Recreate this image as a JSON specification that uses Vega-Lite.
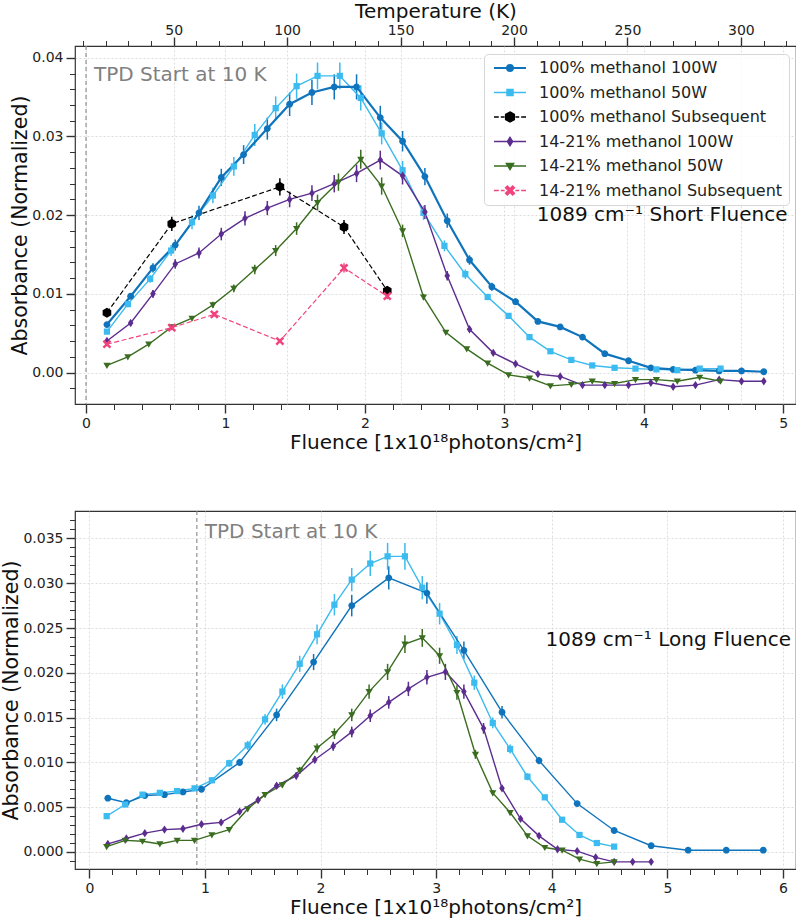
{
  "$schema": "https://vega.github.io/schema/vega-lite/v6.json",
  "padding": {"left": 0, "top": 0, "right": 1, "bottom": 0},
  "spacing": 56,
  "datasets": {
    "short": [
      {"s":"100% methanol 100W","f":0.15,"a":0.0061,"e":0.0003},{"s":"100% methanol 100W","f":0.32,"a":0.0097,"e":0.0004},{"s":"100% methanol 100W","f":0.48,"a":0.0133,"e":0.0006},{"s":"100% methanol 100W","f":0.64,"a":0.0162,"e":0.0007},{"s":"100% methanol 100W","f":0.81,"a":0.0203,"e":0.0009},{"s":"100% methanol 100W","f":0.97,"a":0.0248,"e":0.0011},{"s":"100% methanol 100W","f":1.13,"a":0.0277,"e":0.0012},{"s":"100% methanol 100W","f":1.30,"a":0.0310,"e":0.0014},{"s":"100% methanol 100W","f":1.46,"a":0.0341,"e":0.0015},{"s":"100% methanol 100W","f":1.62,"a":0.0356,"e":0.0016},{"s":"100% methanol 100W","f":1.78,"a":0.0363,"e":0.0016},{"s":"100% methanol 100W","f":1.94,"a":0.0363,"e":0.0016},{"s":"100% methanol 100W","f":2.11,"a":0.0324,"e":0.0015},{"s":"100% methanol 100W","f":2.27,"a":0.0294,"e":0.0013},{"s":"100% methanol 100W","f":2.43,"a":0.0249,"e":0.0011},{"s":"100% methanol 100W","f":2.59,"a":0.0193,"e":0.0009},{"s":"100% methanol 100W","f":2.75,"a":0.0143,"e":0.0006},{"s":"100% methanol 100W","f":2.91,"a":0.0109,"e":0.0005},{"s":"100% methanol 100W","f":3.08,"a":0.0090,"e":0.0004},{"s":"100% methanol 100W","f":3.24,"a":0.0065,"e":0.0003},{"s":"100% methanol 100W","f":3.40,"a":0.0058,"e":0.0003},{"s":"100% methanol 100W","f":3.56,"a":0.0045,"e":0.0002},{"s":"100% methanol 100W","f":3.72,"a":0.0024,"e":0.0001},{"s":"100% methanol 100W","f":3.89,"a":0.0015,"e":0.0001},{"s":"100% methanol 100W","f":4.05,"a":0.0006,"e":0.0001},{"s":"100% methanol 100W","f":4.21,"a":0.0004,"e":0.0001},{"s":"100% methanol 100W","f":4.37,"a":0.0003,"e":0.0001},{"s":"100% methanol 100W","f":4.54,"a":0.0002,"e":0.0001},{"s":"100% methanol 100W","f":4.70,"a":0.0002,"e":0.0001},{"s":"100% methanol 100W","f":4.86,"a":0.0001,"e":0.0001},
      {"s":"100% methanol 50W","f":0.15,"a":0.0052,"e":0.0002},{"s":"100% methanol 50W","f":0.30,"a":0.0087,"e":0.0004},{"s":"100% methanol 50W","f":0.46,"a":0.0119,"e":0.0005},{"s":"100% methanol 50W","f":0.61,"a":0.0155,"e":0.0007},{"s":"100% methanol 50W","f":0.76,"a":0.0191,"e":0.0009},{"s":"100% methanol 50W","f":0.91,"a":0.0225,"e":0.0010},{"s":"100% methanol 50W","f":1.06,"a":0.0262,"e":0.0012},{"s":"100% methanol 50W","f":1.21,"a":0.0302,"e":0.0014},{"s":"100% methanol 50W","f":1.36,"a":0.0336,"e":0.0015},{"s":"100% methanol 50W","f":1.51,"a":0.0364,"e":0.0016},{"s":"100% methanol 50W","f":1.66,"a":0.0377,"e":0.0017},{"s":"100% methanol 50W","f":1.82,"a":0.0377,"e":0.0017},{"s":"100% methanol 50W","f":1.97,"a":0.0349,"e":0.0016},{"s":"100% methanol 50W","f":2.12,"a":0.0304,"e":0.0014},{"s":"100% methanol 50W","f":2.27,"a":0.0257,"e":0.0012},{"s":"100% methanol 50W","f":2.42,"a":0.0203,"e":0.0009},{"s":"100% methanol 50W","f":2.57,"a":0.0161,"e":0.0007},{"s":"100% methanol 50W","f":2.72,"a":0.0125,"e":0.0006},{"s":"100% methanol 50W","f":2.88,"a":0.0096,"e":0.0004},{"s":"100% methanol 50W","f":3.03,"a":0.0072,"e":0.0003},{"s":"100% methanol 50W","f":3.18,"a":0.0045,"e":0.0002},{"s":"100% methanol 50W","f":3.33,"a":0.0027,"e":0.0001},{"s":"100% methanol 50W","f":3.48,"a":0.0016,"e":0.0001},{"s":"100% methanol 50W","f":3.63,"a":0.0009,"e":0.0001},{"s":"100% methanol 50W","f":3.79,"a":0.0006,"e":0.0001},{"s":"100% methanol 50W","f":3.94,"a":0.0005,"e":0.0001},{"s":"100% methanol 50W","f":4.09,"a":0.0004,"e":0.0001},{"s":"100% methanol 50W","f":4.24,"a":0.0003,"e":0.0001},{"s":"100% methanol 50W","f":4.40,"a":0.0005,"e":0.0001},{"s":"100% methanol 50W","f":4.55,"a":0.0005,"e":0.0001},
      {"s":"100% methanol Subsequent","f":0.15,"a":0.0076,"e":0.0004},{"s":"100% methanol Subsequent","f":0.615,"a":0.0189,"e":0.0009},{"s":"100% methanol Subsequent","f":1.39,"a":0.0236,"e":0.0011},{"s":"100% methanol Subsequent","f":1.85,"a":0.0185,"e":0.0009},{"s":"100% methanol Subsequent","f":2.16,"a":0.0104,"e":0.0005},
      {"s":"14-21% methanol 100W","f":0.15,"a":0.0040,"e":0.0002},{"s":"14-21% methanol 100W","f":0.32,"a":0.0063,"e":0.0003},{"s":"14-21% methanol 100W","f":0.48,"a":0.0100,"e":0.0005},{"s":"14-21% methanol 100W","f":0.64,"a":0.0138,"e":0.0006},{"s":"14-21% methanol 100W","f":0.81,"a":0.0152,"e":0.0007},{"s":"14-21% methanol 100W","f":0.97,"a":0.0176,"e":0.0008},{"s":"14-21% methanol 100W","f":1.14,"a":0.0196,"e":0.0009},{"s":"14-21% methanol 100W","f":1.30,"a":0.0209,"e":0.0009},{"s":"14-21% methanol 100W","f":1.46,"a":0.0220,"e":0.0010},{"s":"14-21% methanol 100W","f":1.62,"a":0.0228,"e":0.0010},{"s":"14-21% methanol 100W","f":1.78,"a":0.0240,"e":0.0011},{"s":"14-21% methanol 100W","f":1.94,"a":0.0253,"e":0.0011},{"s":"14-21% methanol 100W","f":2.11,"a":0.0270,"e":0.0012},{"s":"14-21% methanol 100W","f":2.27,"a":0.0250,"e":0.0011},{"s":"14-21% methanol 100W","f":2.43,"a":0.0204,"e":0.0009},{"s":"14-21% methanol 100W","f":2.59,"a":0.0123,"e":0.0006},{"s":"14-21% methanol 100W","f":2.75,"a":0.0055,"e":0.0003},{"s":"14-21% methanol 100W","f":2.92,"a":0.0025,"e":0.0001},{"s":"14-21% methanol 100W","f":3.08,"a":0.0011,"e":0.0001},{"s":"14-21% methanol 100W","f":3.24,"a":-0.0002,"e":0.0001},{"s":"14-21% methanol 100W","f":3.40,"a":-0.0005,"e":0.0001},{"s":"14-21% methanol 100W","f":3.56,"a":-0.0016,"e":0.0001},{"s":"14-21% methanol 100W","f":3.72,"a":-0.0016,"e":0.0001},{"s":"14-21% methanol 100W","f":3.89,"a":-0.0016,"e":0.0001},{"s":"14-21% methanol 100W","f":4.05,"a":-0.0013,"e":0.0001},{"s":"14-21% methanol 100W","f":4.21,"a":-0.0018,"e":0.0001},{"s":"14-21% methanol 100W","f":4.37,"a":-0.0016,"e":0.0001},{"s":"14-21% methanol 100W","f":4.54,"a":-0.0009,"e":0.0001},{"s":"14-21% methanol 100W","f":4.70,"a":-0.0011,"e":0.0001},{"s":"14-21% methanol 100W","f":4.86,"a":-0.0011,"e":0.0001},
      {"s":"14-21% methanol 50W","f":0.15,"a":0.0009,"e":0.0001},{"s":"14-21% methanol 50W","f":0.30,"a":0.0020,"e":0.0001},{"s":"14-21% methanol 50W","f":0.45,"a":0.0036,"e":0.0002},{"s":"14-21% methanol 50W","f":0.615,"a":0.0058,"e":0.0003},{"s":"14-21% methanol 50W","f":0.76,"a":0.0069,"e":0.0003},{"s":"14-21% methanol 50W","f":0.91,"a":0.0086,"e":0.0004},{"s":"14-21% methanol 50W","f":1.06,"a":0.0107,"e":0.0005},{"s":"14-21% methanol 50W","f":1.21,"a":0.0131,"e":0.0006},{"s":"14-21% methanol 50W","f":1.36,"a":0.0155,"e":0.0007},{"s":"14-21% methanol 50W","f":1.51,"a":0.0183,"e":0.0008},{"s":"14-21% methanol 50W","f":1.66,"a":0.0216,"e":0.0010},{"s":"14-21% methanol 50W","f":1.81,"a":0.0242,"e":0.0011},{"s":"14-21% methanol 50W","f":1.97,"a":0.0271,"e":0.0012},{"s":"14-21% methanol 50W","f":2.12,"a":0.0237,"e":0.0011},{"s":"14-21% methanol 50W","f":2.27,"a":0.0180,"e":0.0008},{"s":"14-21% methanol 50W","f":2.42,"a":0.0096,"e":0.0004},{"s":"14-21% methanol 50W","f":2.58,"a":0.0051,"e":0.0002},{"s":"14-21% methanol 50W","f":2.73,"a":0.0030,"e":0.0001},{"s":"14-21% methanol 50W","f":2.88,"a":0.0012,"e":0.0001},{"s":"14-21% methanol 50W","f":3.03,"a":-0.0003,"e":0.0001},{"s":"14-21% methanol 50W","f":3.18,"a":-0.0007,"e":0.0001},{"s":"14-21% methanol 50W","f":3.33,"a":-0.0017,"e":0.0001},{"s":"14-21% methanol 50W","f":3.48,"a":-0.0015,"e":0.0001},{"s":"14-21% methanol 50W","f":3.63,"a":-0.0011,"e":0.0001},{"s":"14-21% methanol 50W","f":3.79,"a":-0.0014,"e":0.0001},{"s":"14-21% methanol 50W","f":3.94,"a":-0.0009,"e":0.0001},{"s":"14-21% methanol 50W","f":4.09,"a":-0.0009,"e":0.0001},{"s":"14-21% methanol 50W","f":4.24,"a":-0.0011,"e":0.0001},{"s":"14-21% methanol 50W","f":4.40,"a":-0.0006,"e":0.0001},{"s":"14-21% methanol 50W","f":4.55,"a":-0.0011,"e":0.0001},
      {"s":"14-21% methanol Subsequent","f":0.15,"a":0.0036,"e":0.0002},{"s":"14-21% methanol Subsequent","f":0.615,"a":0.0057,"e":0.0003},{"s":"14-21% methanol Subsequent","f":0.92,"a":0.0074,"e":0.0003},{"s":"14-21% methanol Subsequent","f":1.39,"a":0.0040,"e":0.0002},{"s":"14-21% methanol Subsequent","f":1.85,"a":0.0133,"e":0.0006},{"s":"14-21% methanol Subsequent","f":2.16,"a":0.0097,"e":0.0004}
    ],
    "long": [
      {"s":"100% methanol 100W","f":0.16,"a":0.0060,"e":0.0003},{"s":"100% methanol 100W","f":0.32,"a":0.0055,"e":0.0002},{"s":"100% methanol 100W","f":0.48,"a":0.0063,"e":0.0003},{"s":"100% methanol 100W","f":0.65,"a":0.0064,"e":0.0003},{"s":"100% methanol 100W","f":0.81,"a":0.0067,"e":0.0003},{"s":"100% methanol 100W","f":0.97,"a":0.0070,"e":0.0003},{"s":"100% methanol 100W","f":1.30,"a":0.0100,"e":0.0004},{"s":"100% methanol 100W","f":1.62,"a":0.0153,"e":0.0007},{"s":"100% methanol 100W","f":1.94,"a":0.0212,"e":0.0009},{"s":"100% methanol 100W","f":2.27,"a":0.0275,"e":0.0012},{"s":"100% methanol 100W","f":2.59,"a":0.0306,"e":0.0013},{"s":"100% methanol 100W","f":2.92,"a":0.0289,"e":0.0012},{"s":"100% methanol 100W","f":3.24,"a":0.0225,"e":0.0010},{"s":"100% methanol 100W","f":3.57,"a":0.0156,"e":0.0007},{"s":"100% methanol 100W","f":3.89,"a":0.0102,"e":0.0004},{"s":"100% methanol 100W","f":4.22,"a":0.0054,"e":0.0002},{"s":"100% methanol 100W","f":4.54,"a":0.0024,"e":0.0001},{"s":"100% methanol 100W","f":4.86,"a":0.0007,"e":0.0001},{"s":"100% methanol 100W","f":5.18,"a":0.0002,"e":0.0001},{"s":"100% methanol 100W","f":5.51,"a":0.0002,"e":0.0001},{"s":"100% methanol 100W","f":5.83,"a":0.0002,"e":0.0001},
      {"s":"100% methanol 50W","f":0.15,"a":0.0040,"e":0.0002},{"s":"100% methanol 50W","f":0.31,"a":0.0053,"e":0.0002},{"s":"100% methanol 50W","f":0.46,"a":0.0064,"e":0.0003},{"s":"100% methanol 50W","f":0.61,"a":0.0066,"e":0.0003},{"s":"100% methanol 50W","f":0.76,"a":0.0068,"e":0.0003},{"s":"100% methanol 50W","f":0.91,"a":0.0071,"e":0.0003},{"s":"100% methanol 50W","f":1.06,"a":0.0080,"e":0.0003},{"s":"100% methanol 50W","f":1.21,"a":0.0099,"e":0.0004},{"s":"100% methanol 50W","f":1.37,"a":0.0119,"e":0.0005},{"s":"100% methanol 50W","f":1.52,"a":0.0148,"e":0.0006},{"s":"100% methanol 50W","f":1.67,"a":0.0179,"e":0.0008},{"s":"100% methanol 50W","f":1.82,"a":0.0210,"e":0.0009},{"s":"100% methanol 50W","f":1.97,"a":0.0243,"e":0.0011},{"s":"100% methanol 50W","f":2.12,"a":0.0276,"e":0.0012},{"s":"100% methanol 50W","f":2.27,"a":0.0304,"e":0.0013},{"s":"100% methanol 50W","f":2.43,"a":0.0322,"e":0.0014},{"s":"100% methanol 50W","f":2.58,"a":0.0330,"e":0.0015},{"s":"100% methanol 50W","f":2.73,"a":0.0330,"e":0.0015},{"s":"100% methanol 50W","f":2.88,"a":0.0295,"e":0.0013},{"s":"100% methanol 50W","f":3.03,"a":0.0266,"e":0.0012},{"s":"100% methanol 50W","f":3.18,"a":0.0231,"e":0.0010},{"s":"100% methanol 50W","f":3.33,"a":0.0189,"e":0.0008},{"s":"100% methanol 50W","f":3.49,"a":0.0144,"e":0.0006},{"s":"100% methanol 50W","f":3.64,"a":0.0115,"e":0.0005},{"s":"100% methanol 50W","f":3.79,"a":0.0084,"e":0.0004},{"s":"100% methanol 50W","f":3.94,"a":0.0061,"e":0.0003},{"s":"100% methanol 50W","f":4.09,"a":0.0036,"e":0.0002},{"s":"100% methanol 50W","f":4.24,"a":0.0019,"e":0.0001},{"s":"100% methanol 50W","f":4.39,"a":0.0010,"e":0.0001},{"s":"100% methanol 50W","f":4.54,"a":0.0006,"e":0.0001},
      {"s":"14-21% methanol 100W","f":0.16,"a":0.0009,"e":0.0001},{"s":"14-21% methanol 100W","f":0.32,"a":0.0015,"e":0.0001},{"s":"14-21% methanol 100W","f":0.48,"a":0.0021,"e":0.0001},{"s":"14-21% methanol 100W","f":0.65,"a":0.0025,"e":0.0001},{"s":"14-21% methanol 100W","f":0.81,"a":0.0026,"e":0.0001},{"s":"14-21% methanol 100W","f":0.97,"a":0.0031,"e":0.0001},{"s":"14-21% methanol 100W","f":1.14,"a":0.0033,"e":0.0001},{"s":"14-21% methanol 100W","f":1.30,"a":0.0045,"e":0.0002},{"s":"14-21% methanol 100W","f":1.46,"a":0.0058,"e":0.0003},{"s":"14-21% methanol 100W","f":1.62,"a":0.0074,"e":0.0003},{"s":"14-21% methanol 100W","f":1.79,"a":0.0085,"e":0.0004},{"s":"14-21% methanol 100W","f":1.95,"a":0.0103,"e":0.0004},{"s":"14-21% methanol 100W","f":2.11,"a":0.0118,"e":0.0005},{"s":"14-21% methanol 100W","f":2.27,"a":0.0134,"e":0.0006},{"s":"14-21% methanol 100W","f":2.43,"a":0.0152,"e":0.0007},{"s":"14-21% methanol 100W","f":2.59,"a":0.0167,"e":0.0007},{"s":"14-21% methanol 100W","f":2.76,"a":0.0182,"e":0.0008},{"s":"14-21% methanol 100W","f":2.92,"a":0.0195,"e":0.0008},{"s":"14-21% methanol 100W","f":3.08,"a":0.0201,"e":0.0009},{"s":"14-21% methanol 100W","f":3.24,"a":0.0179,"e":0.0008},{"s":"14-21% methanol 100W","f":3.41,"a":0.0138,"e":0.0006},{"s":"14-21% methanol 100W","f":3.57,"a":0.0071,"e":0.0003},{"s":"14-21% methanol 100W","f":3.73,"a":0.0037,"e":0.0002},{"s":"14-21% methanol 100W","f":3.89,"a":0.0018,"e":0.0001},{"s":"14-21% methanol 100W","f":4.05,"a":0.0003,"e":0.0001},{"s":"14-21% methanol 100W","f":4.22,"a":0.0001,"e":0.0001},{"s":"14-21% methanol 100W","f":4.38,"a":-0.0006,"e":0.0001},{"s":"14-21% methanol 100W","f":4.54,"a":-0.0011,"e":0.0001},{"s":"14-21% methanol 100W","f":4.70,"a":-0.0011,"e":0.0001},{"s":"14-21% methanol 100W","f":4.86,"a":-0.0011,"e":0.0001},
      {"s":"14-21% methanol 50W","f":0.15,"a":0.0006,"e":0.0001},{"s":"14-21% methanol 50W","f":0.31,"a":0.0013,"e":0.0001},{"s":"14-21% methanol 50W","f":0.46,"a":0.0012,"e":0.0001},{"s":"14-21% methanol 50W","f":0.61,"a":0.0009,"e":0.0001},{"s":"14-21% methanol 50W","f":0.76,"a":0.0013,"e":0.0001},{"s":"14-21% methanol 50W","f":0.91,"a":0.0013,"e":0.0001},{"s":"14-21% methanol 50W","f":1.06,"a":0.0019,"e":0.0001},{"s":"14-21% methanol 50W","f":1.21,"a":0.0025,"e":0.0001},{"s":"14-21% methanol 50W","f":1.37,"a":0.0048,"e":0.0002},{"s":"14-21% methanol 50W","f":1.52,"a":0.0064,"e":0.0003},{"s":"14-21% methanol 50W","f":1.67,"a":0.0075,"e":0.0003},{"s":"14-21% methanol 50W","f":1.82,"a":0.0091,"e":0.0004},{"s":"14-21% methanol 50W","f":1.97,"a":0.0116,"e":0.0005},{"s":"14-21% methanol 50W","f":2.12,"a":0.0132,"e":0.0006},{"s":"14-21% methanol 50W","f":2.27,"a":0.0153,"e":0.0007},{"s":"14-21% methanol 50W","f":2.42,"a":0.0179,"e":0.0008},{"s":"14-21% methanol 50W","f":2.58,"a":0.0201,"e":0.0009},{"s":"14-21% methanol 50W","f":2.73,"a":0.0232,"e":0.0010},{"s":"14-21% methanol 50W","f":2.88,"a":0.0239,"e":0.0010},{"s":"14-21% methanol 50W","f":3.03,"a":0.0219,"e":0.0009},{"s":"14-21% methanol 50W","f":3.18,"a":0.0178,"e":0.0008},{"s":"14-21% methanol 50W","f":3.34,"a":0.0109,"e":0.0005},{"s":"14-21% methanol 50W","f":3.49,"a":0.0066,"e":0.0003},{"s":"14-21% methanol 50W","f":3.64,"a":0.0044,"e":0.0002},{"s":"14-21% methanol 50W","f":3.79,"a":0.0018,"e":0.0001},{"s":"14-21% methanol 50W","f":3.94,"a":0.0005,"e":0.0001},{"s":"14-21% methanol 50W","f":4.09,"a":0.0002,"e":0.0001},{"s":"14-21% methanol 50W","f":4.24,"a":-0.0008,"e":0.0001},{"s":"14-21% methanol 50W","f":4.39,"a":-0.0013,"e":0.0001},{"s":"14-21% methanol 50W","f":4.54,"a":-0.0011,"e":0.0001}
    ]
  },
  "vconcat": [
    {
      "width": 721, "height": 358,
      "resolve": {"scale": {"x": "independent"}},
      "layer": [
        {
          "layer": [
            {"data": {"name": "short"}, "mark": {"type": "point", "filled": true, "opacity": 0},
             "encoding": {
               "x": {"field": "f", "type": "quantitative", "title": "Fluence [1x10¹⁸photons/cm²]", "scale": {"domain": [-0.079, 5.091], "nice": false, "zero": false}},
               "y": {"field": "a", "type": "quantitative", "title": "Absorbance (Normalized)", "scale": {"domain": [-0.004, 0.0415], "nice": false, "zero": false}},
               "fill": {"field": "s", "type": "nominal", "legend": {"title": null}, "scale": {"domain": ["100% methanol 100W","100% methanol 50W","100% methanol Subsequent","14-21% methanol 100W","14-21% methanol 50W","14-21% methanol Subsequent"], "range": ["#0f74bb","#3bbbef","#000000","#5c2d8f","#3a6d20","#f0447e"]}},
               "stroke": {"field": "s", "type": "nominal", "legend": {"title": null}, "scale": {"domain": ["100% methanol 100W","100% methanol 50W","100% methanol Subsequent","14-21% methanol 100W","14-21% methanol 50W","14-21% methanol Subsequent"], "range": ["#0f74bb","#3bbbef","#000000","#5c2d8f","#3a6d20","#f0447e"]}},
               "shape": {"field": "s", "type": "nominal", "legend": {"title": null}, "scale": {"domain": ["100% methanol 100W","100% methanol 50W","100% methanol Subsequent","14-21% methanol 100W","14-21% methanol 50W","14-21% methanol Subsequent"],
                 "range": [
                   "M-4,-0.07H4M-4,0.07H4M-0.8,0A0.8,0.8 0 1,0 0.8,0A0.8,0.8 0 1,0 -0.8,0Z",
                   "M-4,0H4M-0.75,-0.75H0.75V0.75H-0.75Z",
                   "M-4,0H-2.8M-2.3,0H-1.35M1.35,0H2.3M2.8,0H4M0,-1.25L1.08,-0.625L1.08,0.625L0,1.25L-1.08,0.625L-1.08,-0.625Z",
                   "M-4,0H4M0,-1L0.65,0L0,1L-0.65,0Z",
                   "M-4,0H4M-0.9,-0.65H0.9L0,0.9Z",
                   "M-4,0H-2.8M-2.3,0H-1.35M1.35,0H2.3M2.8,0H4M-1.1,-0.66L-0.66,-1.1L0,-0.44L0.66,-1.1L1.1,-0.66L0.44,0L1.1,0.66L0.66,1.1L0,0.44L-0.66,1.1L-1.1,0.66L-0.44,0Z"
                 ]}}
             }},
            {"data": {"values": [{"f": 0}]}, "mark": {"type": "rule", "color": "#888888", "strokeDash": [4, 3], "strokeWidth": 1.1},
             "encoding": {"x": {"field": "f", "type": "quantitative", "title": "Fluence [1x10¹⁸photons/cm²]", "scale": {"domain": [-0.079, 5.091], "nice": false, "zero": false}}}},
            {"data": {"values": [{"f": 0, "a": 0.0370, "t": "TPD Start at 10 K"}]},
             "mark": {"type": "text", "align": "left", "baseline": "alphabetic", "dx": 8, "fontSize": 20, "color": "#808080"},
             "encoding": {
               "x": {"field": "f", "type": "quantitative", "title": "Fluence [1x10¹⁸photons/cm²]", "scale": {"domain": [-0.079, 5.091], "nice": false, "zero": false}},
               "y": {"field": "a", "type": "quantitative", "title": "Absorbance (Normalized)", "scale": {"domain": [-0.004, 0.0415], "nice": false, "zero": false}},
               "text": {"field": "t"}}},
            {"data": {"values": [{"f": 5.03, "a": 0.0192, "t": "1089 cm⁻¹ Short Fluence"}]},
             "mark": {"type": "text", "align": "right", "baseline": "alphabetic", "fontSize": 20, "color": "#111111"},
             "encoding": {
               "x": {"field": "f", "type": "quantitative", "title": "Fluence [1x10¹⁸photons/cm²]", "scale": {"domain": [-0.079, 5.091], "nice": false, "zero": false}},
               "y": {"field": "a", "type": "quantitative", "title": "Absorbance (Normalized)", "scale": {"domain": [-0.004, 0.0415], "nice": false, "zero": false}},
               "text": {"field": "t"}}},
            {"data": {"name": "short"}, "mark": {"type": "errorbar", "rule": {"strokeWidth": 1.5}},
             "encoding": {
               "x": {"field": "f", "type": "quantitative", "title": "Fluence [1x10¹⁸photons/cm²]", "scale": {"domain": [-0.079, 5.091], "nice": false, "zero": false}},
               "y": {"field": "a", "type": "quantitative", "title": "Absorbance (Normalized)", "scale": {"domain": [-0.004, 0.0415], "nice": false, "zero": false}},
               "yError": {"field": "e"},
               "color": {"field": "s", "type": "nominal", "scale": {"domain": ["100% methanol 100W","100% methanol 50W","100% methanol Subsequent","14-21% methanol 100W","14-21% methanol 50W","14-21% methanol Subsequent"], "range": ["#0f74bb","#3bbbef","#000000","#5c2d8f","#3a6d20","#f0447e"]}}}},
            {"data": {"name": "short"}, "transform": [{"filter": {"field": "s", "oneOf": ["100% methanol 50W","14-21% methanol 100W","14-21% methanol 50W"]}}],
             "mark": {"type": "line", "strokeWidth": 1.4},
             "encoding": {
               "x": {"field": "f", "type": "quantitative", "title": "Fluence [1x10¹⁸photons/cm²]", "scale": {"domain": [-0.079, 5.091], "nice": false, "zero": false}},
               "y": {"field": "a", "type": "quantitative", "title": "Absorbance (Normalized)", "scale": {"domain": [-0.004, 0.0415], "nice": false, "zero": false}},
               "stroke": {"field": "s", "type": "nominal", "scale": {"domain": ["100% methanol 100W","100% methanol 50W","100% methanol Subsequent","14-21% methanol 100W","14-21% methanol 50W","14-21% methanol Subsequent"], "range": ["#0f74bb","#3bbbef","#000000","#5c2d8f","#3a6d20","#f0447e"]}}}},
            {"data": {"name": "short"}, "transform": [{"filter": {"field": "s", "oneOf": ["100% methanol Subsequent","14-21% methanol Subsequent"]}}],
             "mark": {"type": "line", "strokeWidth": 1.2, "strokeDash": [5, 2.5]},
             "encoding": {
               "x": {"field": "f", "type": "quantitative", "title": "Fluence [1x10¹⁸photons/cm²]", "scale": {"domain": [-0.079, 5.091], "nice": false, "zero": false}},
               "y": {"field": "a", "type": "quantitative", "title": "Absorbance (Normalized)", "scale": {"domain": [-0.004, 0.0415], "nice": false, "zero": false}},
               "stroke": {"field": "s", "type": "nominal", "scale": {"domain": ["100% methanol 100W","100% methanol 50W","100% methanol Subsequent","14-21% methanol 100W","14-21% methanol 50W","14-21% methanol Subsequent"], "range": ["#0f74bb","#3bbbef","#000000","#5c2d8f","#3a6d20","#f0447e"]}}}},
            {"data": {"name": "short"}, "transform": [{"filter": {"field": "s", "equal": "100% methanol 100W"}}],
             "mark": {"type": "line", "strokeWidth": 2.2},
             "encoding": {
               "x": {"field": "f", "type": "quantitative", "title": "Fluence [1x10¹⁸photons/cm²]", "scale": {"domain": [-0.079, 5.091], "nice": false, "zero": false},
                     "axis": {"orient": "bottom", "tickCount": 500, "values": [0,0.2,0.4,0.6,0.8,1,1.2,1.4,1.6,1.8,2,2.2,2.4,2.6,2.8,3,3.2,3.4,3.6,3.8,4,4.2,4.4,4.6,4.8,5],
                              "labelExpr": "datum.value == round(datum.value) ? format(datum.value, 'd') : ''",
                              "tickSize": {"expr": "datum.value == round(datum.value) ? 9 : 5.5"},
                              "tickWidth": {"condition": {"test": "datum.value == round(datum.value)", "value": 1.4}, "value": 1},
                              "gridOpacity": {"condition": {"test": "datum.value == round(datum.value)", "value": 1}, "value": 0},
                              "labelOverlap": false, "grid": true, "titlePadding": 2}},
               "y": {"field": "a", "type": "quantitative", "title": "Absorbance (Normalized)", "scale": {"domain": [-0.004, 0.0415], "nice": false, "zero": false},
                     "axis": {"orient": "left", "tickCount": 500, "values": [-0.002,0,0.002,0.004,0.006,0.008,0.01,0.012,0.014,0.016,0.018,0.02,0.022,0.024,0.026,0.028,0.03,0.032,0.034,0.036,0.038,0.04],
                              "labelExpr": "abs(datum.value*100 - round(datum.value*100)) < 0.000001 ? format(datum.value, '.2f') : ''",
                              "tickSize": {"expr": "abs(datum.value*100 - round(datum.value*100)) < 0.000001 ? 9 : 5.5"},
                              "tickWidth": {"condition": {"test": "abs(datum.value*100 - round(datum.value*100)) < 0.000001", "value": 1.4}, "value": 1},
                              "gridOpacity": {"condition": {"test": "abs(datum.value*100 - round(datum.value*100)) < 0.000001", "value": 1}, "value": 0},
                              "labelOverlap": false, "grid": true, "titlePadding": 1.5, "titleFontSize": 20.5}},
               "stroke": {"field": "s", "type": "nominal", "scale": {"domain": ["100% methanol 100W","100% methanol 50W","100% methanol Subsequent","14-21% methanol 100W","14-21% methanol 50W","14-21% methanol Subsequent"], "range": ["#0f74bb","#3bbbef","#000000","#5c2d8f","#3a6d20","#f0447e"]}}}},
            {"data": {"name": "short"}, "transform": [{"filter": {"field": "s", "equal": "100% methanol 100W"}}],
             "mark": {"type": "point", "filled": true, "opacity": 1, "size": 64, "shape": "M-0.85,0A0.85,0.85 0 1,0 0.85,0A0.85,0.85 0 1,0 -0.85,0Z"},
             "encoding": {
               "x": {"field": "f", "type": "quantitative", "title": "Fluence [1x10¹⁸photons/cm²]", "scale": {"domain": [-0.079, 5.091], "nice": false, "zero": false}},
               "y": {"field": "a", "type": "quantitative", "title": "Absorbance (Normalized)", "scale": {"domain": [-0.004, 0.0415], "nice": false, "zero": false}},
               "fill": {"field": "s", "type": "nominal", "scale": {"domain": ["100% methanol 100W","100% methanol 50W","100% methanol Subsequent","14-21% methanol 100W","14-21% methanol 50W","14-21% methanol Subsequent"], "range": ["#0f74bb","#3bbbef","#000000","#5c2d8f","#3a6d20","#f0447e"]}}}},
            {"data": {"name": "short"}, "transform": [{"filter": {"field": "s", "equal": "100% methanol 50W"}}],
             "mark": {"type": "point", "filled": true, "opacity": 1, "size": 64, "shape": "M-0.78,-0.78H0.78V0.78H-0.78Z"},
             "encoding": {
               "x": {"field": "f", "type": "quantitative", "title": "Fluence [1x10¹⁸photons/cm²]", "scale": {"domain": [-0.079, 5.091], "nice": false, "zero": false}},
               "y": {"field": "a", "type": "quantitative", "title": "Absorbance (Normalized)", "scale": {"domain": [-0.004, 0.0415], "nice": false, "zero": false}},
               "fill": {"field": "s", "type": "nominal", "scale": {"domain": ["100% methanol 100W","100% methanol 50W","100% methanol Subsequent","14-21% methanol 100W","14-21% methanol 50W","14-21% methanol Subsequent"], "range": ["#0f74bb","#3bbbef","#000000","#5c2d8f","#3a6d20","#f0447e"]}}}},
            {"data": {"name": "short"}, "transform": [{"filter": {"field": "s", "equal": "100% methanol Subsequent"}}],
             "mark": {"type": "point", "filled": true, "opacity": 1, "size": 64, "shape": "M0,-1.25L1.08,-0.625L1.08,0.625L0,1.25L-1.08,0.625L-1.08,-0.625Z"},
             "encoding": {
               "x": {"field": "f", "type": "quantitative", "title": "Fluence [1x10¹⁸photons/cm²]", "scale": {"domain": [-0.079, 5.091], "nice": false, "zero": false}},
               "y": {"field": "a", "type": "quantitative", "title": "Absorbance (Normalized)", "scale": {"domain": [-0.004, 0.0415], "nice": false, "zero": false}},
               "fill": {"field": "s", "type": "nominal", "scale": {"domain": ["100% methanol 100W","100% methanol 50W","100% methanol Subsequent","14-21% methanol 100W","14-21% methanol 50W","14-21% methanol Subsequent"], "range": ["#0f74bb","#3bbbef","#000000","#5c2d8f","#3a6d20","#f0447e"]}}}},
            {"data": {"name": "short"}, "transform": [{"filter": {"field": "s", "equal": "14-21% methanol 100W"}}],
             "mark": {"type": "point", "filled": true, "opacity": 1, "size": 64, "shape": "M0,-1.05L0.7,0L0,1.05L-0.7,0Z"},
             "encoding": {
               "x": {"field": "f", "type": "quantitative", "title": "Fluence [1x10¹⁸photons/cm²]", "scale": {"domain": [-0.079, 5.091], "nice": false, "zero": false}},
               "y": {"field": "a", "type": "quantitative", "title": "Absorbance (Normalized)", "scale": {"domain": [-0.004, 0.0415], "nice": false, "zero": false}},
               "fill": {"field": "s", "type": "nominal", "scale": {"domain": ["100% methanol 100W","100% methanol 50W","100% methanol Subsequent","14-21% methanol 100W","14-21% methanol 50W","14-21% methanol Subsequent"], "range": ["#0f74bb","#3bbbef","#000000","#5c2d8f","#3a6d20","#f0447e"]}}}},
            {"data": {"name": "short"}, "transform": [{"filter": {"field": "s", "equal": "14-21% methanol 50W"}}],
             "mark": {"type": "point", "filled": true, "opacity": 1, "size": 64, "shape": "M-0.9,-0.65H0.9L0,0.9Z"},
             "encoding": {
               "x": {"field": "f", "type": "quantitative", "title": "Fluence [1x10¹⁸photons/cm²]", "scale": {"domain": [-0.079, 5.091], "nice": false, "zero": false}},
               "y": {"field": "a", "type": "quantitative", "title": "Absorbance (Normalized)", "scale": {"domain": [-0.004, 0.0415], "nice": false, "zero": false}},
               "fill": {"field": "s", "type": "nominal", "scale": {"domain": ["100% methanol 100W","100% methanol 50W","100% methanol Subsequent","14-21% methanol 100W","14-21% methanol 50W","14-21% methanol Subsequent"], "range": ["#0f74bb","#3bbbef","#000000","#5c2d8f","#3a6d20","#f0447e"]}}}},
            {"data": {"name": "short"}, "transform": [{"filter": {"field": "s", "equal": "14-21% methanol Subsequent"}}],
             "mark": {"type": "point", "filled": true, "opacity": 1, "size": 64, "shape": "M-1.1,-0.66L-0.66,-1.1L0,-0.44L0.66,-1.1L1.1,-0.66L0.44,0L1.1,0.66L0.66,1.1L0,0.44L-0.66,1.1L-1.1,0.66L-0.44,0Z"},
             "encoding": {
               "x": {"field": "f", "type": "quantitative", "title": "Fluence [1x10¹⁸photons/cm²]", "scale": {"domain": [-0.079, 5.091], "nice": false, "zero": false}},
               "y": {"field": "a", "type": "quantitative", "title": "Absorbance (Normalized)", "scale": {"domain": [-0.004, 0.0415], "nice": false, "zero": false}},
               "fill": {"field": "s", "type": "nominal", "scale": {"domain": ["100% methanol 100W","100% methanol 50W","100% methanol Subsequent","14-21% methanol 100W","14-21% methanol 50W","14-21% methanol Subsequent"], "range": ["#0f74bb","#3bbbef","#000000","#5c2d8f","#3a6d20","#f0447e"]}}}}
          ]
        },
        {"data": {"values": [{"t": 100, "a": 0.01}]}, "mark": {"type": "point", "opacity": 0},
         "encoding": {
           "x": {"field": "t", "type": "quantitative", "title": "Temperature (K)", "scale": {"domain": [6.5, 324.3], "nice": false, "zero": false},
                 "axis": {"orient": "top", "tickCount": 500, "values": [10,20,30,40,50,60,70,80,90,100,110,120,130,140,150,160,170,180,190,200,210,220,230,240,250,260,270,280,290,300,310,320],
                          "labelExpr": "datum.value % 50 == 0 ? format(datum.value, 'd') : ''",
                          "tickSize": {"expr": "datum.value % 50 == 0 ? 9 : 5.5"},
                          "tickWidth": {"condition": {"test": "datum.value % 50 == 0", "value": 1.4}, "value": 1},
                          "gridOpacity": {"condition": {"test": "datum.value % 50 == 0", "value": 1}, "value": 0},
                          "labelOverlap": false, "grid": true, "titlePadding": 1.5, "labelPadding": 0}},
           "y": {"field": "a", "type": "quantitative", "title": "Absorbance (Normalized)", "scale": {"domain": [-0.004, 0.0415], "nice": false, "zero": false}}
         }}
      ]
    },
    {
      "width": 721, "height": 358,
      "layer": [
        {"data": {"name": "long"}, "mark": {"type": "point", "filled": true, "opacity": 0},
         "encoding": {
           "x": {"field": "f", "type": "quantitative", "title": "Fluence [1x10¹⁸photons/cm²]", "scale": {"domain": [-0.124, 6.113], "nice": false, "zero": false}},
           "y": {"field": "a", "type": "quantitative", "title": "Absorbance (Normalized)", "scale": {"domain": [-0.0019, 0.03806], "nice": false, "zero": false}},
           "fill": {"field": "s", "type": "nominal", "legend": {"title": null}, "scale": {"domain": ["100% methanol 100W","100% methanol 50W","14-21% methanol 100W","14-21% methanol 50W"], "range": ["#0f74bb","#3bbbef","#5c2d8f","#3a6d20"]}},
           "stroke": {"field": "s", "type": "nominal", "legend": {"title": null}, "scale": {"domain": ["100% methanol 100W","100% methanol 50W","14-21% methanol 100W","14-21% methanol 50W"], "range": ["#0f74bb","#3bbbef","#5c2d8f","#3a6d20"]}},
           "shape": {"field": "s", "type": "nominal", "legend": {"title": null}, "scale": {"domain": ["100% methanol 100W","100% methanol 50W","14-21% methanol 100W","14-21% methanol 50W"],
             "range": [
               "M-4,-0.07H4M-4,0.07H4M-0.8,0A0.8,0.8 0 1,0 0.8,0A0.8,0.8 0 1,0 -0.8,0Z",
               "M-4,0H4M-0.75,-0.75H0.75V0.75H-0.75Z",
               "M-4,0H4M0,-1L0.65,0L0,1L-0.65,0Z",
               "M-4,0H4M-0.9,-0.65H0.9L0,0.9Z"
             ]}}
         }},
        {"data": {"values": [{"f": 0.93}]}, "mark": {"type": "rule", "color": "#888888", "strokeDash": [4, 3], "strokeWidth": 1.1},
         "encoding": {"x": {"field": "f", "type": "quantitative", "title": "Fluence [1x10¹⁸photons/cm²]", "scale": {"domain": [-0.124, 6.113], "nice": false, "zero": false}}}},
        {"data": {"values": [{"f": 0.93, "a": 0.0350, "t": "TPD Start at 10 K"}]},
         "mark": {"type": "text", "align": "left", "baseline": "alphabetic", "dx": 8, "fontSize": 20, "color": "#808080"},
         "encoding": {
           "x": {"field": "f", "type": "quantitative", "title": "Fluence [1x10¹⁸photons/cm²]", "scale": {"domain": [-0.124, 6.113], "nice": false, "zero": false}},
           "y": {"field": "a", "type": "quantitative", "title": "Absorbance (Normalized)", "scale": {"domain": [-0.0019, 0.03806], "nice": false, "zero": false}},
           "text": {"field": "t"}}},
        {"data": {"values": [{"f": 6.07, "a": 0.0230, "t": "1089 cm⁻¹ Long Fluence"}]},
         "mark": {"type": "text", "align": "right", "baseline": "alphabetic", "fontSize": 20, "color": "#111111"},
         "encoding": {
           "x": {"field": "f", "type": "quantitative", "title": "Fluence [1x10¹⁸photons/cm²]", "scale": {"domain": [-0.124, 6.113], "nice": false, "zero": false}},
           "y": {"field": "a", "type": "quantitative", "title": "Absorbance (Normalized)", "scale": {"domain": [-0.0019, 0.03806], "nice": false, "zero": false}},
           "text": {"field": "t"}}},
        {"data": {"name": "long"}, "mark": {"type": "errorbar", "rule": {"strokeWidth": 1.5}},
         "encoding": {
           "x": {"field": "f", "type": "quantitative", "title": "Fluence [1x10¹⁸photons/cm²]", "scale": {"domain": [-0.124, 6.113], "nice": false, "zero": false}},
           "y": {"field": "a", "type": "quantitative", "title": "Absorbance (Normalized)", "scale": {"domain": [-0.0019, 0.03806], "nice": false, "zero": false}},
           "yError": {"field": "e"},
           "color": {"field": "s", "type": "nominal", "scale": {"domain": ["100% methanol 100W","100% methanol 50W","14-21% methanol 100W","14-21% methanol 50W"], "range": ["#0f74bb","#3bbbef","#5c2d8f","#3a6d20"]}}}},
        {"data": {"name": "long"}, "transform": [{"filter": {"field": "s", "oneOf": ["100% methanol 50W","14-21% methanol 100W","14-21% methanol 50W"]}}],
         "mark": {"type": "line", "strokeWidth": 1.4},
         "encoding": {
           "x": {"field": "f", "type": "quantitative", "title": "Fluence [1x10¹⁸photons/cm²]", "scale": {"domain": [-0.124, 6.113], "nice": false, "zero": false}},
           "y": {"field": "a", "type": "quantitative", "title": "Absorbance (Normalized)", "scale": {"domain": [-0.0019, 0.03806], "nice": false, "zero": false}},
           "stroke": {"field": "s", "type": "nominal", "scale": {"domain": ["100% methanol 100W","100% methanol 50W","14-21% methanol 100W","14-21% methanol 50W"], "range": ["#0f74bb","#3bbbef","#5c2d8f","#3a6d20"]}}}},
        {"data": {"name": "long"}, "transform": [{"filter": {"field": "s", "equal": "100% methanol 100W"}}],
         "mark": {"type": "line", "strokeWidth": 1.4},
         "encoding": {
           "x": {"field": "f", "type": "quantitative", "title": "Fluence [1x10¹⁸photons/cm²]", "scale": {"domain": [-0.124, 6.113], "nice": false, "zero": false},
                 "axis": {"orient": "bottom", "tickCount": 500, "values": [0,0.2,0.4,0.6,0.8,1,1.2,1.4,1.6,1.8,2,2.2,2.4,2.6,2.8,3,3.2,3.4,3.6,3.8,4,4.2,4.4,4.6,4.8,5,5.2,5.4,5.6,5.8,6],
                          "labelExpr": "datum.value == round(datum.value) ? format(datum.value, 'd') : ''",
                          "tickSize": {"expr": "datum.value == round(datum.value) ? 9 : 5.5"},
                          "tickWidth": {"condition": {"test": "datum.value == round(datum.value)", "value": 1.4}, "value": 1},
                          "gridOpacity": {"condition": {"test": "datum.value == round(datum.value)", "value": 1}, "value": 0},
                          "labelOverlap": false, "grid": true, "titlePadding": 2}},
           "y": {"field": "a", "type": "quantitative", "title": "Absorbance (Normalized)", "scale": {"domain": [-0.0019, 0.03806], "nice": false, "zero": false},
                 "axis": {"orient": "left", "tickCount": 500, "values": [-0.001,0,0.001,0.002,0.003,0.004,0.005,0.006,0.007,0.008,0.009,0.01,0.011,0.012,0.013,0.014,0.015,0.016,0.017,0.018,0.019,0.02,0.021,0.022,0.023,0.024,0.025,0.026,0.027,0.028,0.029,0.03,0.031,0.032,0.033,0.034,0.035,0.036,0.037],
                          "labelExpr": "abs(datum.value*200 - round(datum.value*200)) < 0.000001 ? format(datum.value, '.3f') : ''",
                          "tickSize": {"expr": "abs(datum.value*200 - round(datum.value*200)) < 0.000001 ? 9 : 5.5"},
                          "tickWidth": {"condition": {"test": "abs(datum.value*200 - round(datum.value*200)) < 0.000001", "value": 1.4}, "value": 1},
                          "gridOpacity": {"condition": {"test": "abs(datum.value*200 - round(datum.value*200)) < 0.000001", "value": 1}, "value": 0},
                          "labelOverlap": false, "grid": true, "titlePadding": 1.5, "titleFontSize": 20.5}},
           "stroke": {"field": "s", "type": "nominal", "scale": {"domain": ["100% methanol 100W","100% methanol 50W","14-21% methanol 100W","14-21% methanol 50W"], "range": ["#0f74bb","#3bbbef","#5c2d8f","#3a6d20"]}}}},
        {"data": {"name": "long"}, "transform": [{"filter": {"field": "s", "equal": "100% methanol 100W"}}],
         "mark": {"type": "point", "filled": true, "opacity": 1, "size": 64, "shape": "M-0.85,0A0.85,0.85 0 1,0 0.85,0A0.85,0.85 0 1,0 -0.85,0Z"},
         "encoding": {
           "x": {"field": "f", "type": "quantitative", "title": "Fluence [1x10¹⁸photons/cm²]", "scale": {"domain": [-0.124, 6.113], "nice": false, "zero": false}},
           "y": {"field": "a", "type": "quantitative", "title": "Absorbance (Normalized)", "scale": {"domain": [-0.0019, 0.03806], "nice": false, "zero": false}},
           "fill": {"field": "s", "type": "nominal", "scale": {"domain": ["100% methanol 100W","100% methanol 50W","14-21% methanol 100W","14-21% methanol 50W"], "range": ["#0f74bb","#3bbbef","#5c2d8f","#3a6d20"]}}}},
        {"data": {"name": "long"}, "transform": [{"filter": {"field": "s", "equal": "100% methanol 50W"}}],
         "mark": {"type": "point", "filled": true, "opacity": 1, "size": 64, "shape": "M-0.78,-0.78H0.78V0.78H-0.78Z"},
         "encoding": {
           "x": {"field": "f", "type": "quantitative", "title": "Fluence [1x10¹⁸photons/cm²]", "scale": {"domain": [-0.124, 6.113], "nice": false, "zero": false}},
           "y": {"field": "a", "type": "quantitative", "title": "Absorbance (Normalized)", "scale": {"domain": [-0.0019, 0.03806], "nice": false, "zero": false}},
           "fill": {"field": "s", "type": "nominal", "scale": {"domain": ["100% methanol 100W","100% methanol 50W","14-21% methanol 100W","14-21% methanol 50W"], "range": ["#0f74bb","#3bbbef","#5c2d8f","#3a6d20"]}}}},
        {"data": {"name": "long"}, "transform": [{"filter": {"field": "s", "equal": "14-21% methanol 100W"}}],
         "mark": {"type": "point", "filled": true, "opacity": 1, "size": 64, "shape": "M0,-1.05L0.7,0L0,1.05L-0.7,0Z"},
         "encoding": {
           "x": {"field": "f", "type": "quantitative", "title": "Fluence [1x10¹⁸photons/cm²]", "scale": {"domain": [-0.124, 6.113], "nice": false, "zero": false}},
           "y": {"field": "a", "type": "quantitative", "title": "Absorbance (Normalized)", "scale": {"domain": [-0.0019, 0.03806], "nice": false, "zero": false}},
           "fill": {"field": "s", "type": "nominal", "scale": {"domain": ["100% methanol 100W","100% methanol 50W","14-21% methanol 100W","14-21% methanol 50W"], "range": ["#0f74bb","#3bbbef","#5c2d8f","#3a6d20"]}}}},
        {"data": {"name": "long"}, "transform": [{"filter": {"field": "s", "equal": "14-21% methanol 50W"}}],
         "mark": {"type": "point", "filled": true, "opacity": 1, "size": 64, "shape": "M-0.9,-0.65H0.9L0,0.9Z"},
         "encoding": {
           "x": {"field": "f", "type": "quantitative", "title": "Fluence [1x10¹⁸photons/cm²]", "scale": {"domain": [-0.124, 6.113], "nice": false, "zero": false}},
           "y": {"field": "a", "type": "quantitative", "title": "Absorbance (Normalized)", "scale": {"domain": [-0.0019, 0.03806], "nice": false, "zero": false}},
           "fill": {"field": "s", "type": "nominal", "scale": {"domain": ["100% methanol 100W","100% methanol 50W","14-21% methanol 100W","14-21% methanol 50W"], "range": ["#0f74bb","#3bbbef","#5c2d8f","#3a6d20"]}}}}
      ]
    }
  ],
  "config": {
    "font": "DejaVu Sans",
    "view": {"stroke": "#333333", "strokeWidth": 1.2},
    "axis": {
      "labelFont": "DejaVu Sans", "labelFontSize": 14, "labelColor": "#222222",
      "titleFont": "DejaVu Sans", "titleFontSize": 20, "titleFontWeight": "normal", "titleColor": "#111111",
      "tickColor": "#333333", "labelPadding": 3,
      "domain": false, "gridColor": "#d4d4d4", "gridDash": [2, 2], "gridWidth": 0.8,
      "labelFlush": false, "labelOverlap": false
    },
    "legend": {
      "orient": "top-right", "offset": 7.5, "padding": 6, "rowPadding": 8.5,
      "labelFont": "DejaVu Sans", "labelFontSize": 16, "labelColor": "#222222", "labelLimit": 400,
      "symbolSize": 64, "symbolStrokeWidth": 1.5, "symbolOffset": 12, "labelOffset": 21,
      "symbolFillColor": "#000000", "symbolStrokeColor": "#000000",
      "strokeColor": "#d6d6d6", "fillColor": "rgba(255,255,255,0.8)", "cornerRadius": 4
    }
  }
}
